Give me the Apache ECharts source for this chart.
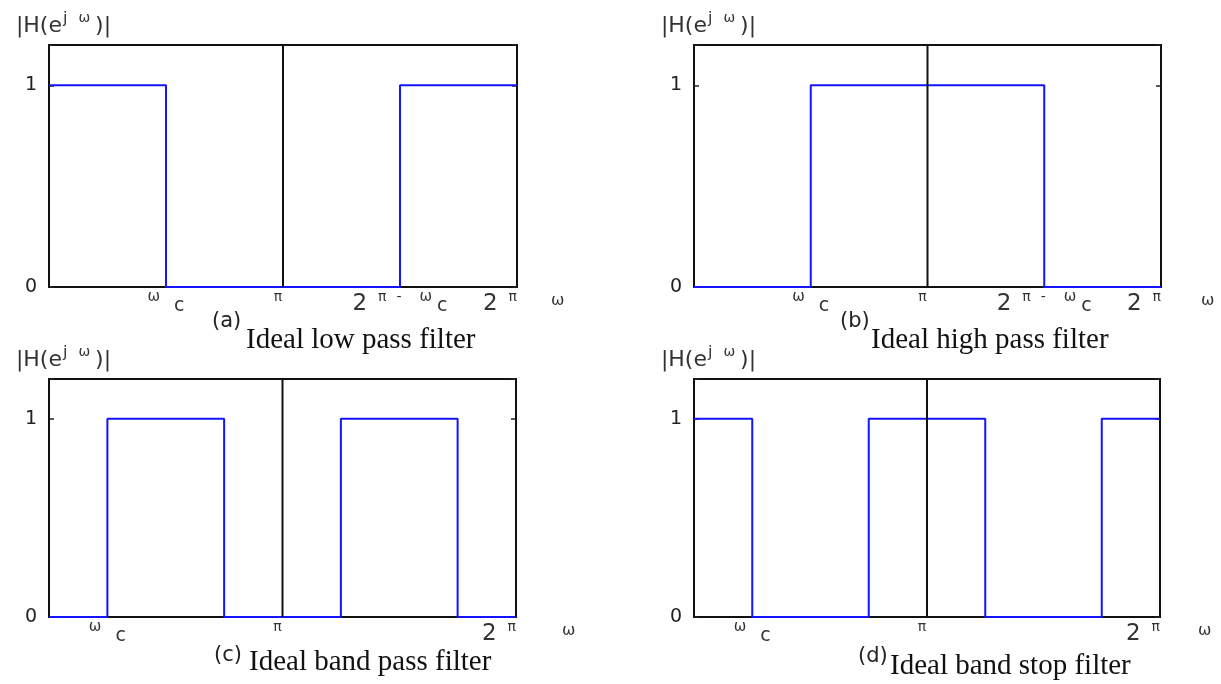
<!DOCTYPE html>
<html>
<head>
<meta charset="utf-8">
<script src="https://cdn.jsdelivr.net/npm/echarts@6/dist/echarts.min.js"></script>
<style>
  html, body { margin: 0; padding: 0; background: #fff; }
  #chart { width: 1221px; height: 684px; }
</style>
</head>
<body>
<div id="chart"></div>
<script>
// frequency axis in units of pi (0 .. 2)
const lowPassX = [0, 0.5, 0.5, 1.5, 1.5, 2]
const lowPassY = [1, 1, 0, 0, 1, 1]
const highPassX = [0, 0.5, 0.5, 1.5, 1.5, 2]
const highPassY = [0, 0, 1, 1, 0, 0]
const bandPassX = [0, 0.25, 0.25, 0.75, 0.75, 1.25, 1.25, 1.75, 1.75, 2]
const bandPassY = [0, 0, 1, 1, 0, 0, 1, 1, 0, 0]
const bandStopX = [0, 0.25, 0.25, 0.75, 0.75, 1.25, 1.25, 1.75, 1.75, 2]
const bandStopY = [1, 1, 0, 0, 1, 1, 0, 0, 1, 1]
// the black line at pi
const piLineX = [1, 1]
const piLineY = [0, 1.2]
// tick labels
const tickValuesAB = [0.5, 1, 1.5, 2]
const tickTextAB = ['ωc', 'π', '2π-ωc', '2π']
const tickValuesCD = [0.25, 1, 2]
const tickTextCD = ['ωc', 'π', '2π']
const yTickValues = [0, 1]
const captionTags = ['(a)', '(b)', '(c)', '(d)']
const captionTexts = ['Ideal low pass filter', 'Ideal high pass filter', 'Ideal band pass filter', 'Ideal band stop filter']

const chart = echarts.init(document.getElementById('chart'))

const SANS = '"DejaVu Sans", Verdana, sans-serif'
const SERIF = '"Liberation Serif", "Times New Roman", serif'

// turn a tick text into rich text
function richTick(t) {
  if (t === 'ωc') return '{w|ω}{c|c}'
  if (t === 'π') return '{p|π}'
  if (t === '2π-ωc') return '{n|2}{p|π}{d|-}{w2|ω}{c|c}'
  if (t === '2π') return '{n|2}{p2|π}'
  return t
}

const tickRich = {
  n: { fontSize: 23, color: '#333', fontFamily: SANS, lineHeight: 26, verticalAlign: 'bottom', padding: [0, 11, 0, 0] },
  p: { fontSize: 14, color: '#333', fontFamily: SANS, lineHeight: 26, verticalAlign: 'top', padding: [0, 10, 0, 0] },
  p2: { fontSize: 14, color: '#333', fontFamily: SANS, lineHeight: 26, verticalAlign: 'top' },
  d: { fontSize: 14, color: '#333', fontFamily: SANS, lineHeight: 26, verticalAlign: 'top', padding: [0, 18, 0, 0] },
  w: { fontSize: 15, color: '#333', fontFamily: SANS, lineHeight: 26, verticalAlign: 'top', padding: [0, 14, 0, 0] },
  w2: { fontSize: 15, color: '#333', fontFamily: SANS, lineHeight: 26, verticalAlign: 'top', padding: [0, 5, 0, 0] },
  c: { fontSize: 19, color: '#333', fontFamily: SANS, lineHeight: 26, verticalAlign: 'bottom' }
}

const grids = [
  { left: 49, top: 45, width: 468, height: 242 },
  { left: 694, top: 45, width: 467, height: 242 },
  { left: 49, top: 379, width: 467, height: 238 },
  { left: 694, top: 379, width: 466, height: 238 }
]

const panels = [
  { x: lowPassX, y: lowPassY, ticks: tickValuesAB, texts: tickTextAB, nameGap: 34 },
  { x: highPassX, y: highPassY, ticks: tickValuesAB, texts: tickTextAB, nameGap: 40 },
  { x: bandPassX, y: bandPassY, ticks: tickValuesCD, texts: tickTextCD, nameGap: 46 },
  { x: bandStopX, y: bandStopY, ticks: tickValuesCD, texts: tickTextCD, nameGap: 38 }
]

// caption tag and caption text positions
const tagPos = [[212, 311], [840, 311], [214, 645], [858, 646]]
const textPos = [[246, 325], [871, 325], [249, 647], [890, 651]]

const xAxes = []
const yAxes = []
const series = []
panels.forEach((p, i) => {
  xAxes.push({
    type: 'value', gridIndex: i, min: 0, max: 2, interval: 0.25,
    name: 'ω', nameLocation: 'end', nameGap: p.nameGap,
    nameTextStyle: { fontSize: 16, color: '#333', fontFamily: SANS, verticalAlign: 'top', padding: [6, 0, 0, 0] },
    axisLine: { show: false }, axisTick: { show: false }, splitLine: { show: false },
    axisLabel: {
      margin: 3, alignMaxLabel: 'right',
      formatter: v => {
        const k = p.ticks.indexOf(v)
        return k >= 0 ? richTick(p.texts[k]) : ''
      },
      rich: tickRich
    }
  })
  yAxes.push({
    type: 'value', gridIndex: i, min: 0, max: 1.2, interval: 1,
    name: '{m||H(e}{s|j}{s2|ω}{m|)|}', nameLocation: 'end', nameGap: 8,
    nameTextStyle: {
      align: 'center', padding: [0, 0, 0, 29],
      rich: {
        m: { fontSize: 22, color: '#333', fontFamily: SANS, lineHeight: 26, verticalAlign: 'bottom' },
        s: { fontSize: 16, color: '#333', fontFamily: SANS, lineHeight: 26, verticalAlign: 'top', padding: [0, 11, 0, 1] },
        s2: { fontSize: 14, color: '#333', fontFamily: SANS, lineHeight: 26, verticalAlign: 'top', padding: [0, 5, 0, 0] }
      }
    },
    axisLine: { show: false }, splitLine: { show: false },
    axisTick: { show: true, inside: true, length: 5, lineStyle: { color: '#222', width: 1.5 } },
    axisLabel: {
      margin: 12, fontSize: 19, color: '#222', fontFamily: SANS,
      formatter: v => yTickValues.indexOf(v) >= 0 ? String(v) : ''
    }
  })
  // right side ticks
  yAxes.push({
    type: 'value', gridIndex: i, min: 0, max: 1.2, interval: 1, position: 'right',
    axisLine: { show: false }, splitLine: { show: false }, axisLabel: { show: false },
    axisTick: { show: true, inside: true, length: 5, lineStyle: { color: '#222', width: 1.5 } }
  })
  series.push({
    type: 'line', xAxisIndex: i, yAxisIndex: i * 2, symbol: 'none', z: 3,
    data: piLineX.map((x, k) => [x, piLineY[k]]),
    lineStyle: { color: '#111', width: 2 }
  })
  series.push({
    type: 'line', xAxisIndex: i, yAxisIndex: i * 2, symbol: 'none', z: 2,
    data: p.x.map((x, k) => [x, p.y[k]]),
    lineStyle: { color: '#1414ff', width: 2 }
  })
})

const titles = []
captionTexts.forEach((t, i) => {
  titles.push({
    text: captionTags[i], left: tagPos[i][0], top: tagPos[i][1], padding: 0,
    textStyle: { fontSize: 21, fontWeight: 'normal', color: '#222', fontFamily: SANS }
  })
  titles.push({
    text: t, left: textPos[i][0], top: textPos[i][1], padding: 0,
    textStyle: { fontSize: 29, fontWeight: 'normal', color: '#111', fontFamily: SERIF, lineHeight: 31 }
  })
})

const option = {
  backgroundColor: '#fff',
  animation: false,
  title: titles,
  grid: grids.map(g => Object.assign({ show: true, borderColor: '#111', borderWidth: 2 }, g)),
  xAxis: xAxes,
  yAxis: yAxes,
  series: series
}

chart.setOption(option)
</script>
</body>
</html>
